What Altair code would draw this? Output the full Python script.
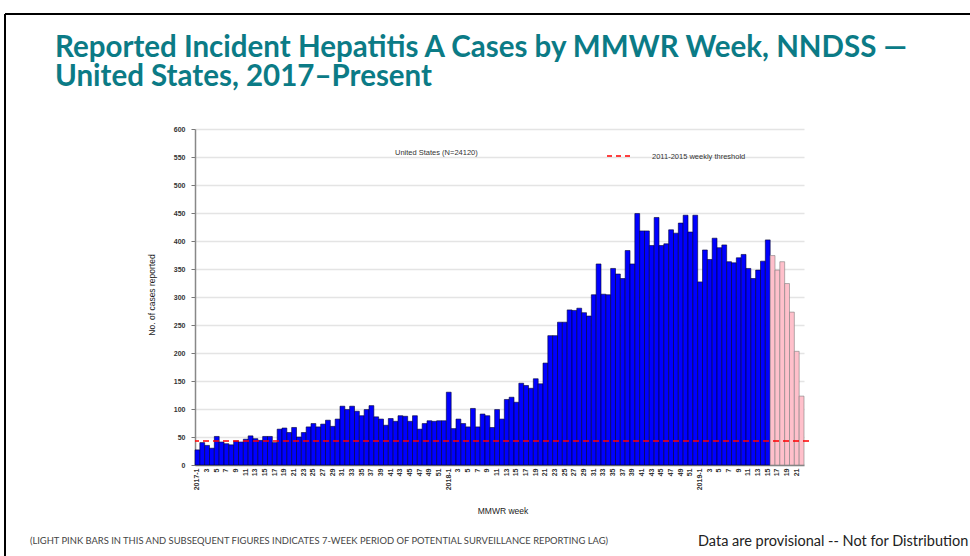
import altair as alt
import pandas as pd

# ---- data ----
cases_2017 = [27, 40, 35, 30, 51, 41, 38, 36, 43, 41, 46, 52, 47, 44, 51, 51, 40, 64, 66, 58,
              67, 50, 58, 68, 74, 68, 73, 80, 69, 82, 105, 99, 105, 96, 88, 99, 106, 86, 82, 71,
              83, 78, 88, 87, 78, 88, 64, 74, 79, 78, 79, 79]
cases_2018 = [130, 65, 82, 74, 68, 101, 68, 91, 88, 67, 99, 82, 117, 121, 112, 146, 142, 137, 154, 145,
              182, 231, 231, 255, 255, 277, 276, 280, 272, 266, 304, 359, 305, 304, 351, 341, 333, 383, 359, 449,
              418, 418, 392, 442, 392, 395, 420, 414, 432, 446, 416, 446]
cases_2019 = [327, 384, 367, 405, 388, 393, 363, 361, 370, 376, 351, 333, 348, 364, 402,
              374, 348, 363, 324, 273, 203, 123]
years = ["2017", "2018", "2019"]
y_ticks = [0, 50, 100, 150, 200, 250, 300, 350, 400, 450, 500, 550, 600]
lag_weeks = 7
threshold = 43
total_n = 24120

series = [cases_2017, cases_2018, cases_2019]
labels, values = [], []
for yr, vals in zip(years, series):
    for i, v in enumerate(vals):
        labels.append(f"{yr}-{i + 1}")
        values.append(v)
n = len(values)
status = ["reported"] * (n - lag_weeks) + ["lag"] * lag_weeks
df = pd.DataFrame({"wk": labels, "cases": values, "status": status})

OX, OY = 195, 129  # plot origin in page pixels
W, H = 614, 336


def px(x):
    return x - OX


def py(y):
    return y - OY


one = alt.Data(values=[{}])

label_expr = ("split(datum.value,'-')[1] == '1' ? datum.value : "
              "(parseInt(split(datum.value,'-')[1]) % 2 == 1 ? split(datum.value,'-')[1] : '')")

y_scale = alt.Scale(domain=[0, 600], nice=False)
y_axis = alt.Axis(title=None, values=y_ticks, grid=True,
                  gridColor="#e4e4e4", gridWidth=1.5, labelFontSize=7,
                  labelFont="Liberation Sans", labelFontWeight="bold", labelColor="#333333",
                  tickSize=4, tickColor="#777777", domainColor="#888888", domainWidth=1.5,
                  labelPadding=6, labelOverlap=False)

bars = alt.Chart(df).mark_bar(strokeWidth=0.6).encode(
    x=alt.X("wk:N", sort=labels,
            scale=alt.Scale(paddingInner=0, paddingOuter=0, range=[0, 609]),
            axis=alt.Axis(title=None, labelExpr=label_expr, labelAngle=-90, labelAlign="right",
                          labelBaseline="middle", labelFontSize=7, labelFont="Liberation Sans",
                          labelFontWeight="bold", labelColor="#333333", labelPadding=3,
                          ticks=False, domainColor="#888888", domainWidth=1.5, grid=False,
                          labelOverlap=False)),
    y=alt.Y("cases:Q", scale=y_scale, axis=y_axis),
    color=alt.Color("status:N", scale=alt.Scale(domain=["reported", "lag"], range=["#0000FF", "#FFC0CB"]),
                    legend=None),
    stroke=alt.Stroke("status:N", scale=alt.Scale(domain=["reported", "lag"], range=["#000033", "#808080"]),
                      legend=None),
)

thresh = alt.Chart(one).mark_rule(color="#FF0000", strokeDash=[6, 4], strokeWidth=1.5).encode(
    y=alt.Y(datum=threshold, type="quantitative", scale=y_scale, axis=y_axis)
)

legend_line = alt.Chart(one).mark_rule(color="#FF0000", strokeDash=[5, 4], strokeWidth=1.5).encode(
    x=alt.value(px(607)), x2=alt.value(px(633)), y=alt.value(py(156))
)


def txt(s, x, y, size, color="#333333", font="Liberation Sans", weight="normal", align="left",
        angle=0, baseline="alphabetic", line_height=None):
    kw = dict(text=s, fontSize=size, color=color, font=font, fontWeight=weight,
              align=align, angle=angle, baseline=baseline)
    if line_height is not None:
        kw["lineHeight"] = line_height
    return alt.Chart(one).mark_text(**kw).encode(x=alt.value(px(x)), y=alt.value(py(y)))


title = txt(["Reported Incident Hepatitis A Cases by MMWR Week, NNDSS \u2014",
             "United States, 2017\u2013Present"], 55, 57, 29.5,
            color="#0B7B86", font="Lato", weight="bold", line_height=29)
us_lbl = txt(f"United States (N={total_n})", 395, 155, 7.5)
thr_lbl = txt("2011-2015 weekly threshold", 652, 159, 7.5)
ytitle = txt("No. of cases reported", 152, 295, 8.5, align="center", angle=270, baseline="middle",
             color="#222222")
xtitle = txt("MMWR week", 503, 511, 8.5, align="center", baseline="middle", color="#222222")
foot1 = txt("(LIGHT PINK BARS IN THIS AND SUBSEQUENT FIGURES INDICATES 7-WEEK PERIOD OF POTENTIAL "
            "SURVEILLANCE REPORTING LAG)", 319, 544, 9.4, align="center", color="#444444", font="Lato")
foot2 = txt("Data are provisional  -- Not for Distribution", 698, 546, 14.5, color="#222222", font="Lato")

border_top = alt.Chart(one).mark_rule(color="black", strokeWidth=2).encode(
    x=alt.value(px(5)), x2=alt.value(px(970)), y=alt.value(py(14)))
border_left = alt.Chart(one).mark_rule(color="black", strokeWidth=2).encode(
    x=alt.value(px(5)), y=alt.value(py(14)), y2=alt.value(py(556)))

chart = alt.layer(
    bars, thresh, legend_line, title, us_lbl, thr_lbl, ytitle, xtitle, foot1, foot2,
    border_top, border_left
).properties(
    width=W, height=H,
    padding={"left": OX, "top": OY, "right": 970 - OX - W, "bottom": 556 - OY - H},
    autosize="none", background="white",
).configure_view(stroke=None)

chart.save("out.html", embed_options={"renderer": "svg", "actions": False})
